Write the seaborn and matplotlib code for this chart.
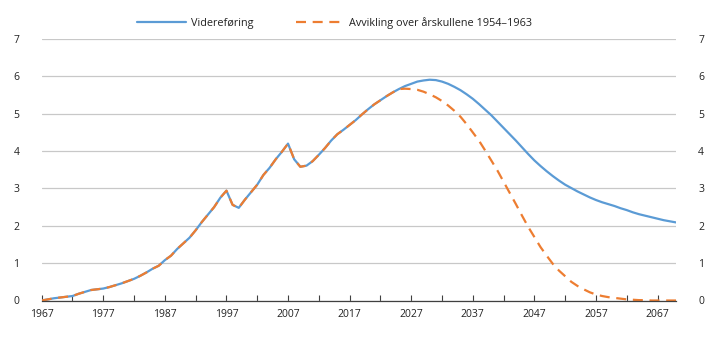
import numpy as np
import pandas as pd
import matplotlib
matplotlib.use("Agg")
import matplotlib.pyplot as plt
import seaborn as sns

years = list(range(1967, 2071))

common = [0.00, 0.03, 0.06, 0.08, 0.10, 0.12, 0.18, 0.23, 0.28, 0.30,
          0.32, 0.36, 0.41, 0.46, 0.52, 0.58, 0.66, 0.75, 0.85, 0.93,
          1.08, 1.20, 1.38, 1.53, 1.68, 1.88, 2.10, 2.30, 2.50, 2.75,
          2.94, 2.56, 2.48, 2.70, 2.90, 3.10, 3.36, 3.55, 3.78, 3.98,
          4.20, 3.78, 3.58, 3.61, 3.73, 3.90, 4.08, 4.28, 4.45, 4.57,
          4.70, 4.83, 4.98, 5.12, 5.25, 5.36, 5.47, 5.57]  # 1967-2024

videre_tail = [5.66, 5.74, 5.80, 5.86, 5.89, 5.91, 5.90, 5.86, 5.80, 5.72,
               5.63, 5.52, 5.40, 5.26, 5.11, 4.96, 4.79, 4.62, 4.45, 4.28,
               4.10, 3.92, 3.75, 3.60, 3.46, 3.33, 3.21, 3.10, 3.01, 2.92,
               2.84, 2.76, 2.69, 2.63, 2.58, 2.53, 2.47, 2.42, 2.36, 2.31,
               2.27, 2.23, 2.19, 2.15, 2.12, 2.09]  # 2025-2070

avvik_tail = [5.66, 5.67, 5.66, 5.64, 5.59, 5.52, 5.44, 5.34, 5.22, 5.08,
              4.92, 4.72, 4.50, 4.28, 4.02, 3.75, 3.48, 3.18, 2.88, 2.58,
              2.27, 1.97, 1.70, 1.43, 1.20, 0.98, 0.80, 0.65, 0.50, 0.39,
              0.30, 0.22, 0.16, 0.12, 0.09, 0.07, 0.05, 0.03, 0.02, 0.01,
              0.01, 0.00, 0.00, 0.00, 0.00, 0.00]  # 2025-2070

videre = common + videre_tail
avvik = common + avvik_tail

label_a = "Videreføring"
label_b = "Avvikling over årskullene 1954–1963"

yticks = list(range(0, 8))
xlabels = list(range(1967, 2068, 10))

df = pd.DataFrame({"year": years, label_a: videre, label_b: avvik})

sns.set_theme(style="white")
plt.rcParams["font.family"] = ["Open Sans", "DejaVu Sans"]

fig = plt.figure(figsize=(7.2, 3.41), dpi=100)
ax = fig.add_axes([41.7 / 720, 40.5 / 341, (676 - 41.7) / 720, (300.5 - 39) / 341])

blue = "#5B9BD5"
orange = "#ED7D31"

sns.lineplot(data=df, x="year", y=label_a, ax=ax, color=blue, linewidth=1.6,
             label=label_a)
sns.lineplot(data=df, x="year", y=label_b, ax=ax, color=orange, linewidth=1.6,
             dashes=False, label=label_b)
ax.lines[-1].set_linestyle((0, (4.5, 3.0)))

ax.set_xlim(years[0], years[-1])
ax.set_ylim(0, 7)
ax.set_yticks(yticks)
ax.set_yticklabels([str(v) for v in yticks])
ax.set_xticks(xlabels)
ax.set_xticklabels([str(v) for v in xlabels])
ax.set_xticks(list(range(1967, 2071, 5)), minor=True)
ax.set_xlabel("")
ax.set_ylabel("")

ax.grid(axis="y", color="#c8c8c8", linewidth=0.9)
ax.set_axisbelow(True)
for s in ["left", "right", "top"]:
    ax.spines[s].set_visible(False)
ax.spines["bottom"].set_color("#404040")
ax.spines["bottom"].set_linewidth(0.9)

ax.tick_params(axis="y", which="both", left=False, right=False,
               labelleft=True, labelright=True, pad=10, labelsize=7.5,
               colors="#222222")
ax.tick_params(axis="x", which="both", direction="in", length=4, width=0.8,
               color="#404040", bottom=True, labelsize=7.5, pad=6,
               labelcolor="#222222")

leg = ax.legend(loc="center", bbox_to_anchor=(0.462, 1.061), ncol=2,
                frameon=False, fontsize=7.8, handlelength=4.5,
                columnspacing=3.9, handletextpad=0.45)
for t in leg.get_texts():
    t.set_color("#222222")

fig.savefig("out.png", dpi=100)
